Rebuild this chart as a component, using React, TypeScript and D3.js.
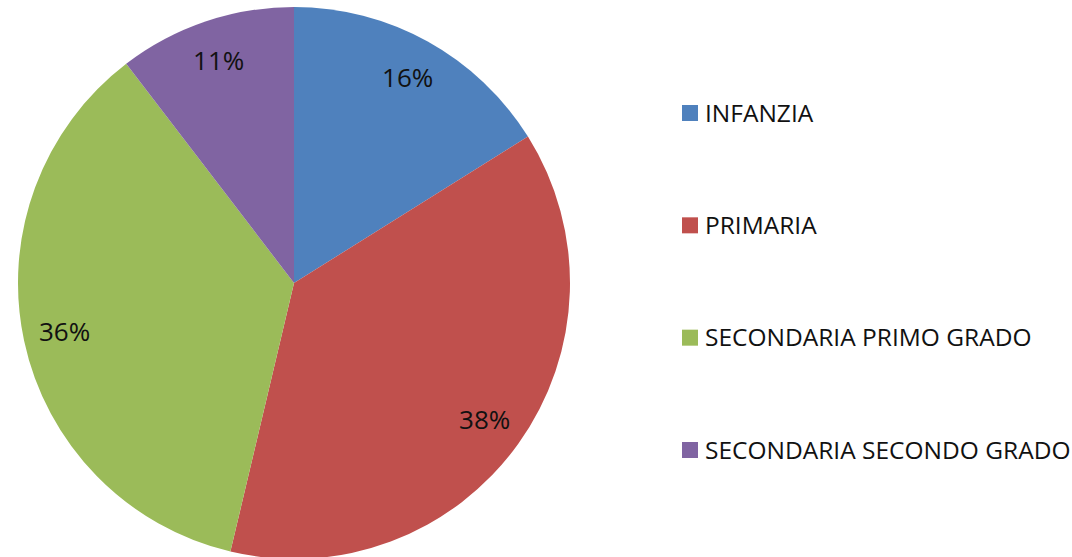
import { useEffect, useRef } from 'react';
import * as d3 from 'd3';

const categories = ['INFANZIA', 'PRIMARIA', 'SECONDARIA PRIMO GRADO', 'SECONDARIA SECONDO GRADO'];
const values = [16.1, 37.6, 35.9, 10.4];
const labels = ['16%', '38%', '36%', '11%'];
const colors = ['#4F81BD', '#C0504D', '#9BBB59', '#8064A2'];

type Slice = { name: string; value: number; label: string };

const App = () => {
  const svgRef = useRef<SVGSVGElement | null>(null);

  useEffect(() => {
    const width = 1072;
    const height = 557;
    const svg = d3.select(svgRef.current);
    svg.selectAll('*').remove();
    svg.attr('width', width).attr('height', height);

    const data: Slice[] = categories.map((name, i) => ({ name, value: values[i], label: labels[i] }));

    const cx = 294;
    const cy = 283;
    const radius = 276;

    const color = d3.scaleOrdinal<string>().domain(categories).range(colors);

    const pie = d3.pie<Slice>().sort(null).value(d => d.value);
    const arc = d3.arc<d3.PieArcDatum<Slice>>().innerRadius(0).outerRadius(radius);
    const labelArc = d3.arc<d3.PieArcDatum<Slice>>().innerRadius(radius * 0.85).outerRadius(radius * 0.85);

    const g = svg.append('g').attr('transform', `translate(${cx},${cy})`);

    g.selectAll('path')
      .data(pie(data))
      .enter()
      .append('path')
      .attr('d', arc)
      .attr('fill', d => color(d.data.name));

    // Percent labels inside slices
    g.selectAll('.label')
      .data(pie(data))
      .enter()
      .append('text')
      .attr('class', 'label')
      .attr('transform', d => `translate(${labelArc.centroid(d)})`)
      .attr('text-anchor', 'middle')
      .attr('dy', '0.36em')
      .style('font-family', 'Open Sans, sans-serif')
      .style('font-size', '26px')
      .style('fill', '#111')
      .text(d => d.data.label);

    // Legend
    const legendY = d3.scalePoint<string>().domain(categories).range([113, 450]);

    const legend = svg.append('g');
    const item = legend.selectAll('g')
      .data(categories)
      .enter()
      .append('g')
      .attr('transform', d => `translate(682,${legendY(d)})`);

    item.append('rect')
      .attr('x', 0)
      .attr('y', -8)
      .attr('width', 16)
      .attr('height', 16)
      .attr('fill', d => color(d));

    item.append('text')
      .attr('x', 23)
      .attr('dy', '0.36em')
      .style('font-family', 'Open Sans, sans-serif')
      .style('font-size', '24.5px')
      .style('fill', '#111')
      .text(d => d);
  }, []);

  return (
    <div style={{ position: 'absolute', left: 0, top: 0 }}>
      <svg ref={svgRef}></svg>
    </div>
  );
};

export default App;
